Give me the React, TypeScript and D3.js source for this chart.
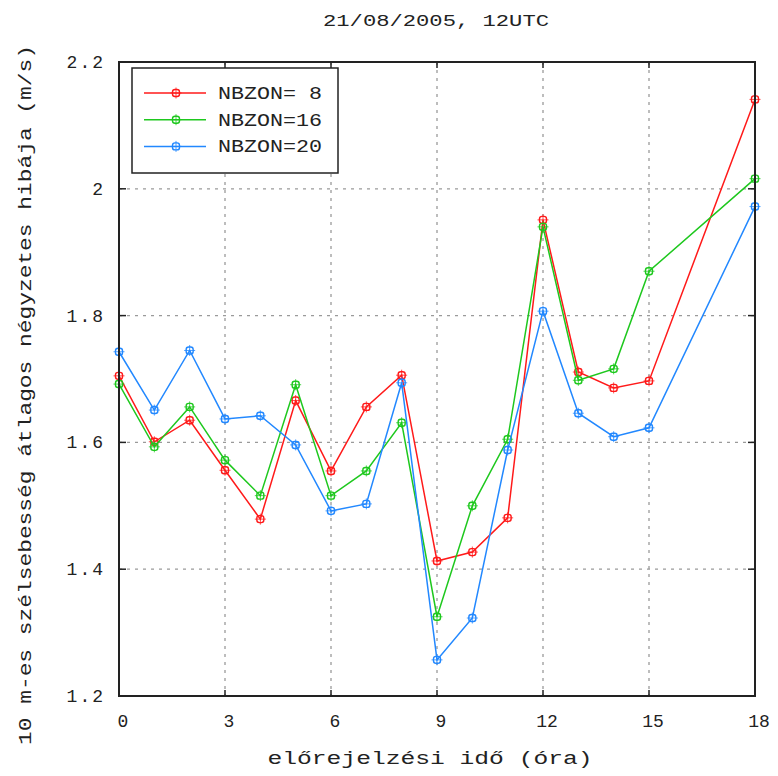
import React from "react";
import * as d3 from "d3";

const hours = [0, 1, 2, 3, 4, 5, 6, 7, 8, 9, 10, 11, 12, 13, 14, 15, 18];
const nbzon8 = [1.705, 1.601, 1.635, 1.556, 1.479, 1.666, 1.555, 1.656, 1.706, 1.413, 1.427, 1.481, 1.951, 1.711, 1.686, 1.697, 2.141];
const nbzon16 = [1.692, 1.593, 1.656, 1.572, 1.516, 1.691, 1.516, 1.555, 1.631, 1.325, 1.5, 1.605, 1.94, 1.698, 1.716, 1.87, 2.016];
const nbzon20 = [1.743, 1.651, 1.745, 1.637, 1.642, 1.596, 1.492, 1.503, 1.694, 1.257, 1.323, 1.588, 1.807, 1.646, 1.609, 1.623, 1.972];

const xTicks = [0, 3, 6, 9, 12, 15, 18];
const yTicks = [1.2, 1.4, 1.6, 1.8, 2, 2.2];
const seriesNames = ["NBZON= 8", "NBZON=16", "NBZON=20"];
const seriesColors = ["#ff1a1a", "#1ec81e", "#2288ff"];

const font = "'Liberation Mono', 'DejaVu Sans Mono', monospace";

const App = () => {
    const width = 778;
    const height = 776;
    const left = 119, right = 755, top = 62, bottom = 696;

    const x = d3.scaleLinear().domain([0, 18]).range([left, right]);
    const y = d3.scaleLinear().domain([1.2, 2.2]).range([bottom, top]);

    const series = [nbzon8, nbzon16, nbzon20];
    const line = d3.line<number>()
        .x((_, i) => x(hours[i]))
        .y((d) => y(d));

    // marker: small circle with tiny cross ticks
    const marker = (cx: number, cy: number, color: string, key: string) => (
        <g key={key} stroke={color} fill="none" strokeWidth={1.4}>
            <rect x={cx - 3.5} y={cy - 3.5} width={7} height={7} rx={2.5} />
            <line x1={cx - 5.5} x2={cx + 5.5} y1={cy} y2={cy} strokeWidth={0.8} />
            <line x1={cx} x2={cx} y1={cy - 5.5} y2={cy + 5.5} strokeWidth={0.8} />
        </g>
    );

    return (
        <svg width={width} height={height} style={{ position: "absolute", left: 0, top: 0, background: "white" }}>
            <rect width={width} height={height} fill="white" />
            <text x={436} y={26} textAnchor="middle" fontFamily={font} fontSize={17} fill="#222"
                  textLength={226} lengthAdjust="spacingAndGlyphs">21/08/2005, 12UTC</text>

            {/* grid */}
            {xTicks.filter((t) => t > 0 && t < 18).map((t) => (
                <line key={"gx" + t} x1={x(t)} x2={x(t)} y1={top} y2={bottom}
                      stroke="#9a9a9a" strokeWidth={1.3} strokeDasharray="3,5" />
            ))}
            {yTicks.filter((t) => t > 1.2 && t < 2.2).map((t) => (
                <line key={"gy" + t} x1={left} x2={right} y1={y(t)} y2={y(t)}
                      stroke="#9a9a9a" strokeWidth={1.3} strokeDasharray="3,5" />
            ))}

            {/* series */}
            {series.map((s, si) => (
                <g key={"s" + si}>
                    <path d={line(s) || ""} fill="none" stroke={seriesColors[si]} strokeWidth={1.5} />
                    {s.map((v, i) => marker(x(hours[i]), y(v), seriesColors[si], `m${si}-${i}`))}
                </g>
            ))}

            {/* frame and ticks */}
            <rect x={left} y={top} width={right - left} height={bottom - top} fill="none" stroke="#222" strokeWidth={2} />
            {xTicks.map((t) => (
                <g key={"tx" + t} stroke="#222" strokeWidth={1.5}>
                    <line x1={x(t)} x2={x(t)} y1={bottom} y2={bottom - 6} />
                    <line x1={x(t)} x2={x(t)} y1={top} y2={top + 6} />
                </g>
            ))}
            {yTicks.map((t) => (
                <g key={"ty" + t} stroke="#222" strokeWidth={1.5}>
                    <line x1={left} x2={left + 7} y1={y(t)} y2={y(t)} />
                    <line x1={right} x2={right - 7} y1={y(t)} y2={y(t)} />
                </g>
            ))}

            {/* tick labels */}
            {xTicks.map((t) => (
                <text key={"lx" + t} x={x(t) + 4} y={727} textAnchor="middle" fontFamily={font}
                      fontSize={18} fill="#222">{t}</text>
            ))}
            {yTicks.map((t) => (
                <text key={"ly" + t} x={105} y={y(t) + 6} textAnchor="end" fontFamily={font}
                      fontSize={18} fill="#222" letterSpacing={2}>{t === 2 ? "2" : t.toFixed(1)}</text>
            ))}

            {/* axis titles */}
            <text x={430} y={764} textAnchor="middle" fontFamily={font} fontSize={19} fill="#222"
                  textLength={325} lengthAdjust="spacingAndGlyphs">előrejelzési idő (óra)</text>
            <text transform="translate(31,395) rotate(-90)" textAnchor="middle" fontFamily={font}
                  fontSize={19} fill="#222" textLength={700}
                  lengthAdjust="spacingAndGlyphs">10 m-es szélsebesség átlagos négyzetes hibája (m/s)</text>

            {/* legend */}
            <rect x={132} y={68} width={206} height={105} fill="white" stroke="#222" strokeWidth={1.5} />
            {seriesNames.map((name, i) => {
                const ly = 93 + i * 26.7;
                return (
                    <g key={"lg" + i}>
                        <line x1={144} x2={206} y1={ly} y2={ly} stroke={seriesColors[i]} strokeWidth={1.5} />
                        {marker(176, ly, seriesColors[i], "lm" + i)}
                        <text x={218} y={ly + 6} fontFamily={font} fontSize={18} fill="#222"
                              textLength={104} lengthAdjust="spacingAndGlyphs"
                              style={{ whiteSpace: "pre" }}>{name}</text>
                    </g>
                );
            })}
        </svg>
    );
};

export default App;
